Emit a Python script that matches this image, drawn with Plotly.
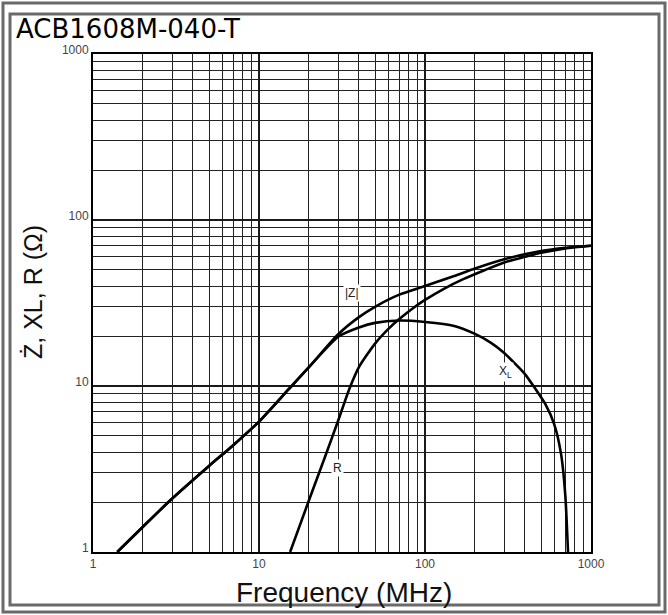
import plotly.graph_objects as go

# ---- data ----
freq_z = [1.4, 2, 3, 5, 7, 10, 15, 20, 30, 40, 50, 70, 100, 150, 200, 300, 500, 700, 1000]
z_vals = [1.0, 1.42, 2.1, 3.3, 4.4, 6.1, 9.5, 13, 20.5, 26, 30, 35.5, 40, 46, 51, 58, 65, 68, 70]

freq_r = [15.4, 20, 25, 30, 35, 40, 50, 60, 70, 85, 100, 130, 170, 230, 300, 400, 500, 700, 1000]
r_vals = [1.0, 2.05, 3.75, 6.2, 9.6, 13.0, 18.0, 22.0, 25.3, 29.5, 33, 38.5, 44, 50, 55.5, 60, 63.5, 67.5, 70]

freq_xl = [1.4, 2, 3, 5, 7, 10, 15, 20, 30, 40, 50, 70, 100, 150, 200, 250, 300, 400, 450, 530, 600, 660, 700, 727]
xl_vals = [1.0, 1.42, 2.1, 3.3, 4.4, 6.1, 9.5, 13, 19.8, 22.5, 24, 24.8, 24.3, 23.0, 20.6, 18.2, 15.8, 11.8, 10.0, 7.8, 5.9, 3.9, 2.2, 1.0]

tick_vals = [1, 10, 100, 1000]
tick_text = ["1", "10", "100", "1000"]
minor_vals = [m * d for d in (1, 10, 100) for m in range(2, 10)]

W, H = 668, 615
L, R, T, B = 93, 77, 54, 63
PW, PH = W - L - R, H - T - B


def px(x):
    return (x - L) / PW


def py(y):
    return (H - B - y) / PH


fig = go.Figure()
line = dict(color="black", width=2.6, shape="spline", smoothing=0.6)
fig.add_trace(go.Scatter(x=freq_z, y=z_vals, mode="lines", line=line, name="|Z|"))
fig.add_trace(go.Scatter(x=freq_r, y=r_vals, mode="lines", line=line, name="R"))
fig.add_trace(go.Scatter(x=freq_xl, y=xl_vals, mode="lines", line=line, name="XL"))

axis_common = dict(
    type="log", range=[0, 3],
    tickvals=tick_vals, ticktext=tick_text,
    showgrid=True, gridcolor="#1a1a1a", gridwidth=1.6,
    minor=dict(tickvals=minor_vals, showgrid=True, gridcolor="#222", gridwidth=1.4, ticks=""),
    showline=True, linecolor="black", linewidth=2, mirror=True,
    ticks="", zeroline=False,
    tickfont=dict(family="Liberation Sans", size=12, color="#444"),
)
fig.update_xaxes(**axis_common)
fig.update_yaxes(**axis_common, ticklabelshift=-4)

annos = [
    dict(text="ACB1608M-040-T", x=px(14), y=py(29), xanchor="left", yanchor="middle",
         font=dict(family="DejaVu Sans", size=26, color="black")),
    dict(text="Frequency (MHz)", x=px(344), y=py(592), xanchor="center", yanchor="middle",
         font=dict(family="Liberation Sans", size=28, color="#111")),
    dict(text="Ż, XL, R (Ω)", x=px(33), y=py(292), xanchor="center", yanchor="middle",
         textangle=-90, font=dict(family="Liberation Sans", size=25, color="#111")),
]
for a in annos:
    a.update(xref="paper", yref="paper", showarrow=False)

label_font = dict(family="Liberation Sans", size=12, color="#222")
annos += [
    dict(text="|Z|", x=1.56, y=1.56, xref="x", yref="y", showarrow=False,
         bgcolor="white", font=label_font),
    dict(text="X<sub>L</sub>", x=2.482, y=1.084, xref="x", yref="y", showarrow=False,
         bgcolor="white", font=label_font),
    dict(text="R", x=1.47, y=0.506, xref="x", yref="y", showarrow=False,
         bgcolor="white", font=label_font),
]

shapes = [
    dict(type="rect", xref="paper", yref="paper", x0=px(3), x1=px(665), y0=py(612), y1=py(3),
         line=dict(color="#6a6a6a", width=3)),
    dict(type="rect", xref="paper", yref="paper", x0=px(10), x1=px(659), y0=py(605), y1=py(14),
         line=dict(color="#6a6a6a", width=3)),
]

fig.update_layout(
    width=W, height=H,
    margin=dict(l=L, r=R, t=T, b=B, pad=0),
    paper_bgcolor="white", plot_bgcolor="white",
    showlegend=False,
    annotations=annos, shapes=shapes,
)

fig.write_html(
    "out.html",
    config={"displayModeBar": False},
    post_script="document.body.style.margin='0';document.body.style.overflow='hidden';",
)
